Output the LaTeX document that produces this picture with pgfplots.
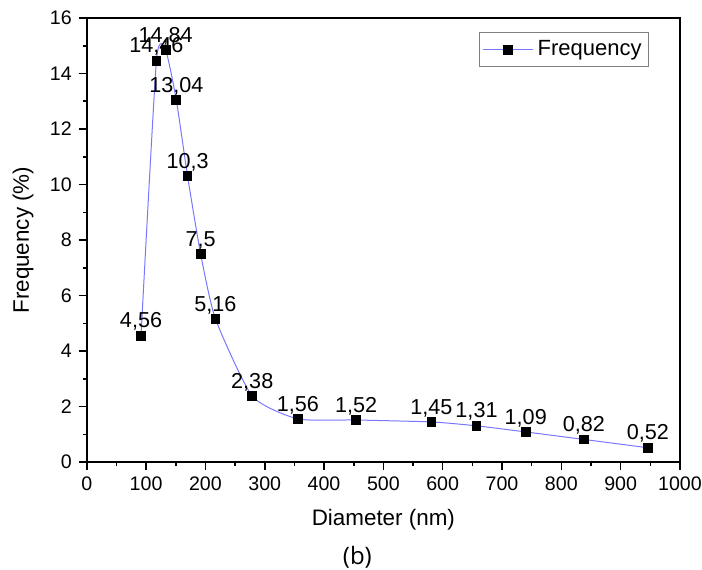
\documentclass[border=0pt]{standalone}
\usepackage{pgfplots}
\pgfplotsset{compat=1.18}
\usepackage{fontspec}
\setmainfont{Liberation Sans}
\newfontfamily\bfont{Open Sans}
\definecolor{lineblue}{RGB}{120,120,255}
\begin{document}
\begin{tikzpicture}
\begin{axis}[
  scale only axis,
  width=296.5pt, height=222pt,
  xmin=0, xmax=1000, ymin=0, ymax=16,
  xtick={0,100,...,1000}, ytick={0,2,...,16},
  minor x tick num=1, minor y tick num=1,
  xtick pos=left, ytick pos=left,
  tick align=outside,
  major tick length=4pt, minor tick length=2pt,
  every tick/.style={black, line width=0.8pt},
  axis line style={line width=1.1pt},
  /pgf/number format/assume math mode=true,
  /pgf/number format/1000 sep={},
  tick label style={font=\fontsize{9.8}{11}\selectfont},
  xlabel={Diameter (nm)}, ylabel={Frequency (\%)},
  label style={font=\fontsize{11.2}{13}\selectfont},
  xlabel style={at={(axis description cs:0.5,0)}, anchor=center, yshift=-28.5pt},
  ylabel style={at={(axis description cs:-0.1074,0.5)}, anchor=center},
  legend style={at={(rel axis cs:0.948,0.968)}, anchor=north east, draw=gray, line width=0.5pt,
    font=\fontsize{11}{13}\selectfont, inner xsep=1.5pt, inner ysep=2pt},
  legend cell align=left,
  legend image code/.code={
    \draw[lineblue, line width=0.5pt] (0pt,0pt) -- (25pt,0pt);
    \draw[black, fill=black] (10.3pt,-2.2pt) rectangle (14.7pt,2.2pt);
  },
  point meta=explicit symbolic,
  nodes near coords,
  every node near coord/.append style={font=\fontsize{10.8}{12}\selectfont, anchor=south, inner sep=2pt, yshift=0.3pt},
  clip=false,
]
\addplot[lineblue, line width=0.5pt, smooth, tension=0.35, mark=square*, mark size=2.2pt,
  mark options={black, fill=black, solid}]
  table[meta=lab] {
x y lab
91.5 4.56 4,56
117.5 14.46 14,46
133 14.84 14,84
151 13.04 13,04
170 10.3 10,3
192 7.5 7,5
217 5.16 5,16
279 2.38 2,38
356 1.56 1,56
454 1.52 1,52
581 1.45 1,45
657 1.31 1,31
740 1.09 1,09
838 0.82 0,82
946 0.52 0,52
};
\addlegendentry{Frequency}
\node[font=\bfont\fontsize{12}{14}\selectfont] at (axis description cs:0.5,0) [xshift=-13pt, yshift=-47.5pt] {(b)};
\end{axis}
\pgfresetboundingbox
\path ([xshift=-43.35pt,yshift=-53.5pt]current axis.south west) rectangle ([xshift=11pt,yshift=9pt]current axis.north east);
\end{tikzpicture}
\end{document}
